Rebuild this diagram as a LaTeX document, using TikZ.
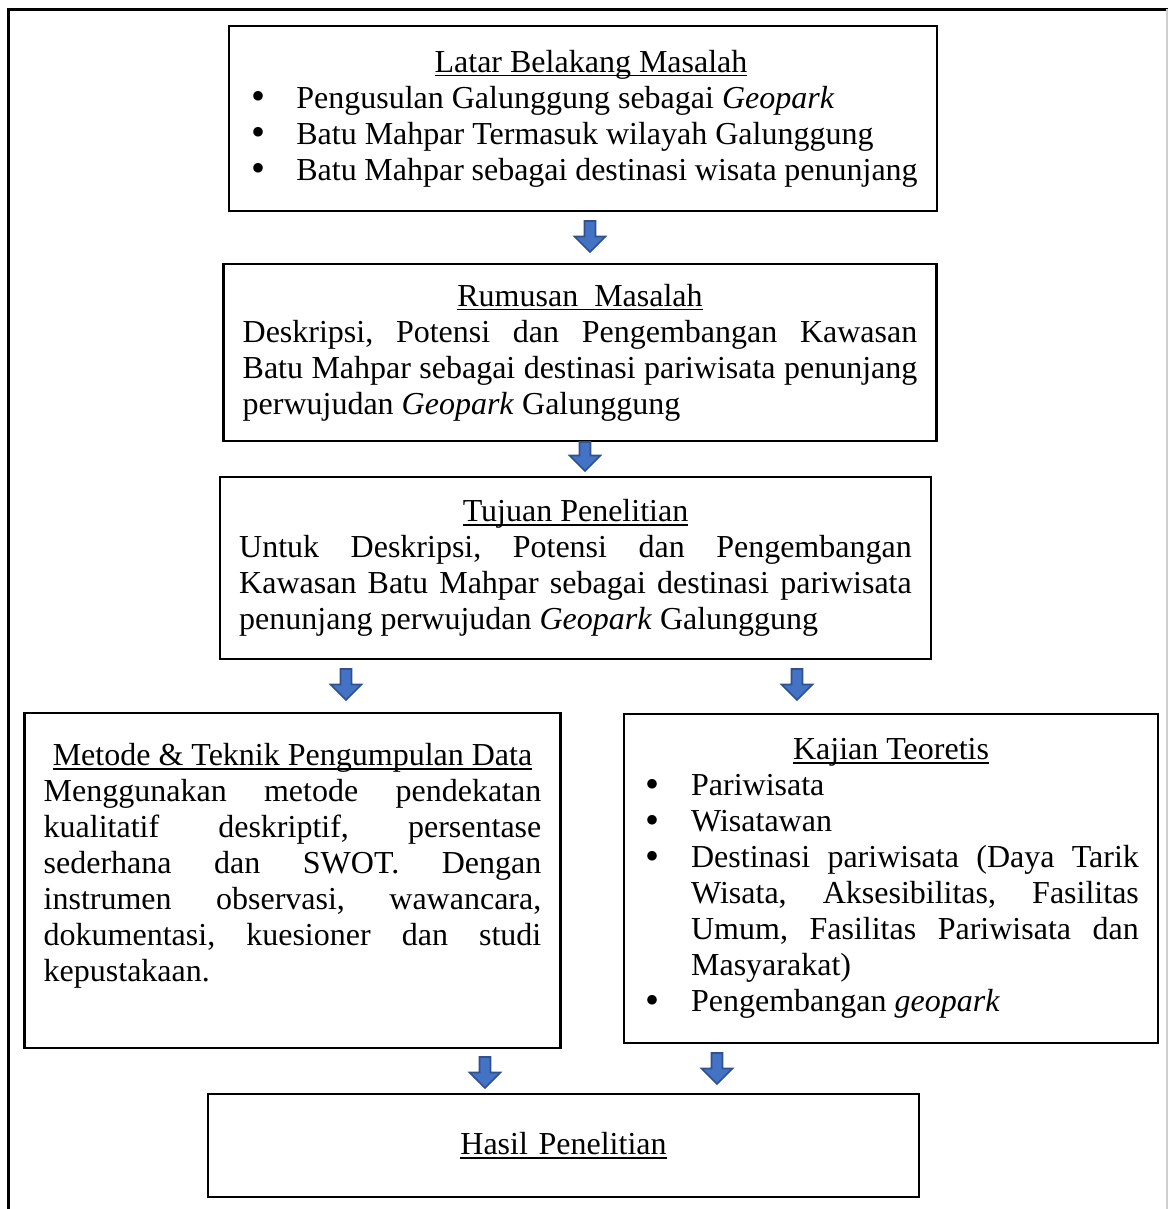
\documentclass[tikz,border=0pt]{standalone}
\usepackage{fontspec}
\setmainfont{Liberation Serif}
\usetikzlibrary{calc}
\definecolor{arrowfill}{HTML}{4472C4}
\definecolor{arrowedge}{HTML}{2F528F}
\definecolor{edgegray}{HTML}{CFCFCF}
\setlength{\parindent}{0pt}
\frenchspacing
\hyphenpenalty=10000
\tolerance=10000
\newcommand\garis[1]{\leavevmode\setbox0\hbox{#1}\rlap{\rule[-1.6pt]{\wd0}{0.55pt}}\box0}
\newcommand\judul[2][0pt]{{\centering\hspace*{#1}\garis{#2}\par}}
\newcommand\titik{\raisebox{-0.6pt}{\fontsize{15pt}{15pt}\selectfont\textbullet}}
\newcommand\butir[1]{\par\noindent\hangindent=18pt\hangafter=1\makebox[18pt][l]{\hspace{1pt}\titik}#1}
\tikzset{
 box/.style={draw,line width=1pt,align=justify,inner xsep=7.2pt,inner ysep=3.6pt,font=\fontsize{12pt}{13.5pt}\selectfont},
 panah/.style={draw=arrowedge,fill=arrowfill,line width=0.6pt,line join=miter,
  to path={($(\tikztostart)+(-5.5,0)$) -- ($(\tikztostart)+(5.5,0)$) -- ($(\tikztotarget)+(5.5,-15.5)$)
   -- ($(\tikztotarget)+(15.5,-15.5)$) -- (\tikztotarget) -- ($(\tikztotarget)+(-15.5,-15.5)$)
   -- ($(\tikztotarget)+(-5.5,-15.5)$) -- cycle}},
 bingkai/.style={line width=1.1pt}
}

\begin{document}
\begin{tikzpicture}[x=0.375pt,y=-0.375pt]
\useasboundingbox (0,0) rectangle (1168,1209);

% frame of the page
\draw[bingkai] (8.5,1209) -- (8.5,9.5) -- (1168,9.5);
\draw[edgegray,line width=0.5pt] (1167,9.5) -- (1167,1209);

\node[box,text width=251pt,minimum height=69.4pt] (latar) at (583,118.5) {\judul[6pt]{Latar Belakang Masalah}
\butir{Pengusulan Galunggung sebagai \textit{Geopark}}
\butir{Batu Mahpar Termasuk wilayah Galunggung}
\butir{Batu Mahpar sebagai destinasi wisata penunjang}};

\node[box,text width=253pt,minimum height=66.4pt] (rumusan) at (580,352.5) {\judul{Rumusan\ \ Masalah}
Deskripsi, Potensi dan Pengembangan Kawasan\linebreak Batu Mahpar sebagai destinasi pariwisata penunjang\linebreak perwujudan \textit{Geopark} Galunggung};

\node[box,text width=252.2pt,minimum height=68.2pt] (tujuan) at (575.5,568) {\judul{Tujuan Penelitian}
Untuk Deskripsi, Potensi dan Pengembangan\linebreak Kawasan Batu Mahpar sebagai destinasi pariwisata\linebreak penunjang perwujudan \textit{Geopark} Galunggung};

\node[box,text width=186.6pt,minimum height=125.6pt] (metode) at (292.5,880.5) {\judul{Metode \& Teknik Pengumpulan Data}
Menggunakan metode pendekatan\linebreak kualitatif deskriptif, persentase\linebreak sederhana dan SWOT. Dengan\linebreak instrumen observasi, wawancara,\linebreak dokumentasi, kuesioner dan studi\linebreak kepustakaan.\par\mbox{}};

\node[box,text width=185.9pt,minimum height=123.4pt] (kajian) at (891,878.5) {\judul{Kajian Teoretis}
\butir{Pariwisata}
\butir{Wisatawan}
\butir{Destinasi pariwisata (Daya Tarik\linebreak Wisata, Aksesibilitas, Fasilitas\linebreak Umum, Fasilitas Pariwisata dan\linebreak Masyarakat)}
\butir{Pengembangan \textit{geopark}}};

\node[box,align=center,text width=252.2pt,minimum height=38.6pt] (hasil) at (563.5,1145.5) {\garis{Hasil Penelitian}};

% block arrows
\coordinate (a1top) at (590,221);  \coordinate (a1tip) at (590,252);
\coordinate (a2top) at (585,442);  \coordinate (a2tip) at (585,471);
\coordinate (a3top) at (346,669);  \coordinate (a3tip) at (346,700);
\coordinate (a4top) at (797,669);  \coordinate (a4tip) at (797,700);
\coordinate (a5top) at (485,1057); \coordinate (a5tip) at (485,1088);
\coordinate (a6top) at (717,1053); \coordinate (a6tip) at (717,1084);
\draw[panah] (a1top) to (a1tip);
\draw[panah] (a2top) to (a2tip);
\draw[panah] (a3top) to (a3tip);
\draw[panah] (a4top) to (a4tip);
\draw[panah] (a5top) to (a5tip);
\draw[panah] (a6top) to (a6tip);
\end{tikzpicture}
\end{document}
